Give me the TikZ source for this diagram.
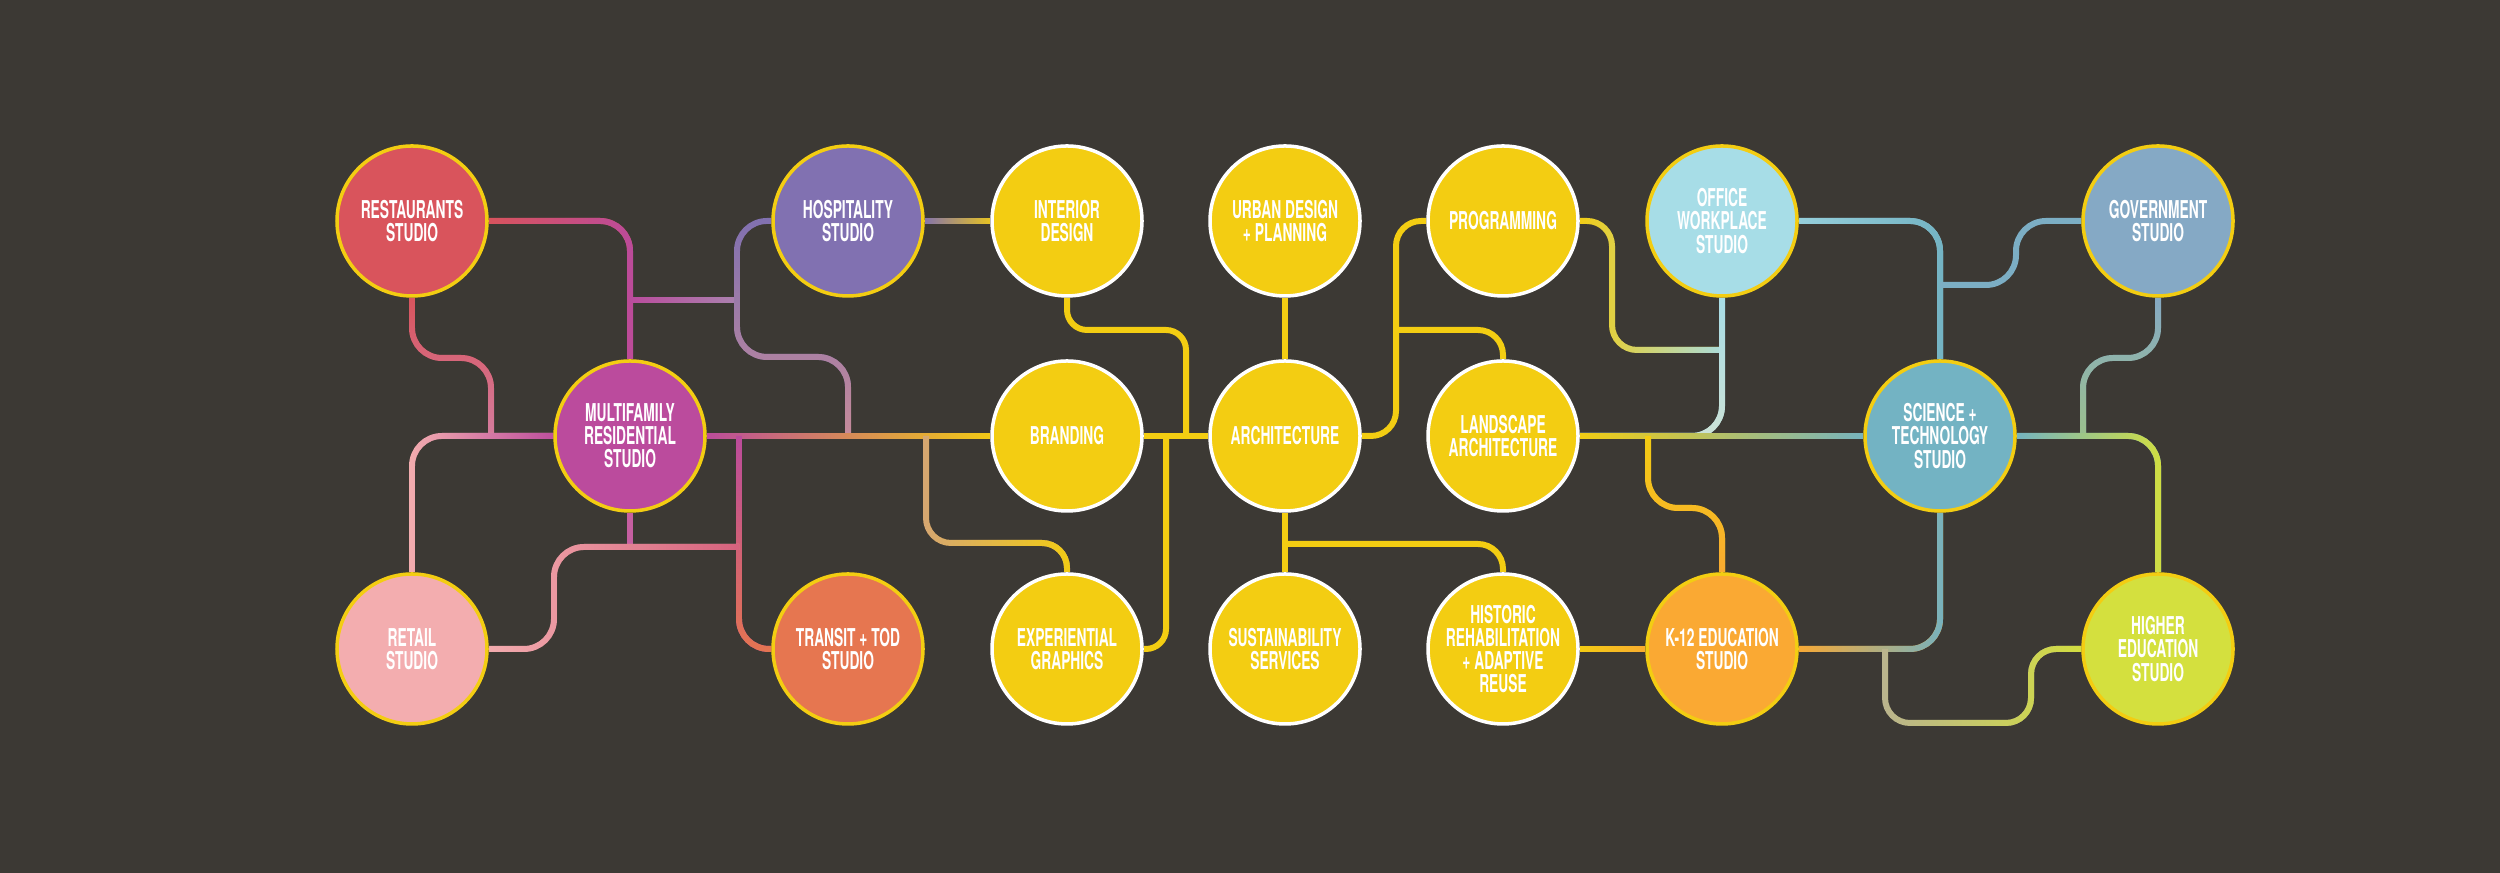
\documentclass[tikz,border=0pt]{standalone}
\usepackage{fontspec}
\newfontfamily\nodefont{TeX Gyre Heros}[FakeStretch=0.56]
\usetikzlibrary{fadings}

\definecolor{bgc}{HTML}{3C3934}
\definecolor{yel}{HTML}{F3CD12}
\definecolor{restc}{HTML}{D9545C}
\definecolor{hospc}{HTML}{8171B1}
\definecolor{multic}{HTML}{BB4B9D}
\definecolor{retailc}{HTML}{F3ADAF}
\definecolor{transc}{HTML}{E67650}
\definecolor{officec}{HTML}{A7DDE7}
\definecolor{govc}{HTML}{85A9C5}
\definecolor{scic}{HTML}{73B3C3}
\definecolor{k12c}{HTML}{FAA933}
\definecolor{highc}{HTML}{D4E03E}
% blend colours along the links
\definecolor{mauve}{HTML}{A986B0}
\definecolor{rosy}{HTML}{C98C9A}
\definecolor{pinkm}{HTML}{D57FA2}
\definecolor{redpink}{HTML}{D6607C}
\definecolor{tan}{HTML}{D6A772}
\definecolor{khaki}{HTML}{BAB48E}
\definecolor{paleg}{HTML}{CFE3D6}
\definecolor{sage}{HTML}{9DC28A}

\pgfdeclarelayer{lines}
\pgfsetlayers{lines,main}

% link that shades from #2 to #3, fading side #1
\newcommand{\glink}[4][west]{%
  \draw[link, draw=#2] #4;
  \draw[link, draw=#3, path fading=#1] #4 ++(0,0.05) ++(0,-0.1) ++(0.05,0.05) ++(-0.1,0);
}

\begin{document}
\begin{tikzpicture}[
    hub/.style={circle, line width=1pt, minimum size=1.5cm, inner sep=0pt,
                align=center, text=white,
                font=\nodefont\bfseries\fontsize{7pt}{6.6pt}\selectfont},
    studio/.style={hub, draw=yel, fill=#1},
    practice/.style={hub, draw=white, fill=yel},
    link/.style={line width=1.7pt, rounded corners=0.3cm},
  ]
  \useasboundingbox (0,0) rectangle (25,8.73);

  % --- top row ---
  \node[studio=restc] (rest) at (4.12,6.52) {RESTAURANTS\\STUDIO};
  \node[studio=hospc] (hosp) at (8.48,6.52) {HOSPITALITY\\STUDIO};
  \node[practice] (intd) at (10.67,6.52) {INTERIOR\\DESIGN};
  \node[practice] (urban) at (12.85,6.52) {URBAN DESIGN\\+ PLANNING};
  \node[practice] (prog) at (15.03,6.52) {PROGRAMMING};
  \node[studio=officec] (office) at (17.22,6.52) {OFFICE\\WORKPLACE\\STUDIO};
  \node[studio=govc] (gov) at (21.58,6.52) {GOVERNMENT\\STUDIO};

  % --- middle row ---
  \node[studio=multic] (multi) at (6.30,4.37) {MULTIFAMILY\\RESIDENTIAL\\STUDIO};
  \node[practice] (brand) at (10.67,4.37) {BRANDING};
  \node[practice] (arch) at (12.85,4.37) {ARCHITECTURE};
  \node[practice] (land) at (15.03,4.37) {LANDSCAPE\\ARCHITECTURE};
  \node[studio=scic] (sci) at (19.40,4.37) {SCIENCE +\\TECHNOLOGY\\STUDIO};

  % --- bottom row ---
  \node[studio=retailc] (retail) at (4.12,2.24) {RETAIL\\STUDIO};
  \node[studio=transc] (transit) at (8.48,2.24) {TRANSIT + TOD\\STUDIO};
  \node[practice] (expg) at (10.67,2.24) {EXPERIENTIAL\\GRAPHICS};
  \node[practice] (sust) at (12.85,2.24) {SUSTAINABILITY\\SERVICES};
  \node[practice] (hist) at (15.03,2.24) {HISTORIC\\REHABILITATION\\+ ADAPTIVE\\REUSE};
  \node[studio=k12c] (k12) at (17.22,2.24) {K-12 EDUCATION\\STUDIO};
  \node[studio=highc] (higher) at (21.58,2.24) {HIGHER\\EDUCATION\\STUDIO};

  \begin{pgfonlayer}{lines}
    \fill[bgc] (0,0) rectangle (25,8.73);

    % --- left cluster ---
    \glink{restc}{multic}{(rest.east) -| (multi.north)}
    \glink{multic}{mauve}{(6.30,5.73) -- (7.37,5.73)}
    \glink[north]{hospc}{rosy}{(hosp.west) -| (7.37,5.16) -| (8.48,4.37)}
    \glink[north]{restc}{pinkm}{(rest.south) |- (4.91,5.15) -- (4.91,4.37)}
    \glink{retailc}{multic}{(retail.north) |- (multi.west)}
    \glink{multic}{yel}{(multi.east) -- (brand.west)}
    \glink[north]{multic}{transc}{(7.39,4.37) |- (transit.west)}
    \draw[link, multic!80!retailc] (multi.south) -- (6.30,3.26);
    \glink{retailc}{redpink}{(retail.east) -| (5.54,3.26) -- (7.39,3.26)}
    \glink{tan}{yel}{[rounded corners=0.25cm] (9.26,4.37) |- (10.67,3.30) -- (expg.north)}

    % --- yellow core ---
    \glink{hospc}{yel}{(hosp.east) -- (intd.west)}
    \draw[link, yel, rounded corners=0.2cm] (intd.south) |- (11.86,5.43) -- (11.86,4.37);
    \draw[link, yel, rounded corners=0.2cm] (expg.east) -| (11.66,4.37);
    \draw[link, yel] (brand.east) -- (arch.west);
    \draw[link, yel] (urban.south) -- (arch.north);
    \draw[link, yel, rounded corners=0.25cm] (arch.east) -- (13.96,4.37) |- (prog.west);
    \draw[link, yel, rounded corners=0.25cm] (13.96,5.43) -| (land.north);
    \draw[link, yel] (arch.south) -- (sust.north);
    \draw[link, yel, rounded corners=0.25cm] (12.85,3.29) -| (hist.north);
    \glink{yel}{k12c}{(hist.east) -- (k12.west)}

    % --- right cluster ---
    \glink{yel}{officec}{[rounded corners=0.25cm] (prog.east) -- (16.12,6.52) |- (17.22,5.23)}
    \glink[north]{officec}{paleg}{(office.south) |- (land.east)}
    \glink{yel}{scic}{(land.east) -- (sci.west)}
    \glink[north]{yel}{k12c}{(16.48,4.37) |- (17.22,3.65) -- (k12.north)}
    \glink{k12c}{scic}{(k12.east) -| (sci.south)}
    \glink{khaki}{highc}{[rounded corners=0.25cm] (18.85,2.24) |- (20.31,1.50) |- (higher.west)}
    \glink{officec!70!scic}{scic}{(office.east) -| (sci.north)}
    \draw[link, govc!50!scic] (gov.west) -- (20.16,6.52) |- (19.40,5.88);
    \glink[north]{govc}{sage}{(gov.south) |- (20.83,5.15) -- (20.83,4.37)}
    \glink{scic}{highc}{(sci.east) -| (higher.north)}
  \end{pgfonlayer}
\end{tikzpicture}
\end{document}
